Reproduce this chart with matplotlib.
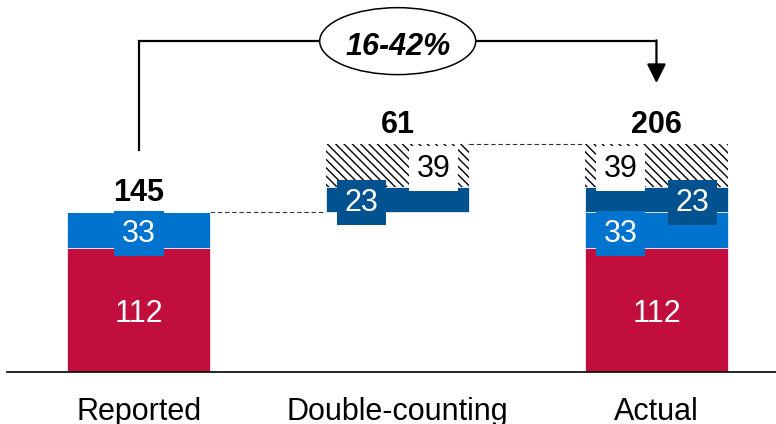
#!/usr/bin/env python3
"""
Waterfall of reported vs. actual totals, with the double-counted share
floated between the two stacked columns.
"""

import numpy as np
import matplotlib.pyplot as plt
from matplotlib.patches import Ellipse

# data
categories = ["Reported", "Double-counting", "Actual"]
core = [112, 0, 112]             # red base
reported_extra = [33, 0, 33]     # light blue
double_counted = [0, 23, 23]     # dark blue
overlap = [0, 39, 39]            # hatched
totals = [145, 61, 206]
range_text = "16-42%"

RED = "#C20E3D"
LBLUE = "#0073CF"
DBLUE = "#02528F"

plt.rcParams["font.family"] = ["Liberation Sans", "DejaVu Sans"]
plt.rcParams["hatch.linewidth"] = 1.0


def seg_label(ax, x, y, val, fc, color):
    box = dict(boxstyle="square,pad=0.25", fc=fc, ec="none") if fc else None
    ax.text(x, y, str(val), ha="center", va="center", fontsize=22,
            color=color, bbox=box, zorder=5)


def main():
    fig = plt.figure(figsize=(7.76, 4.24), dpi=100)
    ax = fig.add_axes([0, 52 / 424, 1, 372 / 424])

    x = np.arange(len(categories))
    width = 0.553
    # the double-counting column floats on top of the reported total
    bottom = np.array([0, totals[0], 0], dtype=float)

    series = [
        # values, face, hatch, label text colour, label box, label x shift
        (core, RED, None, "white", None, [0, 0, 0]),
        (reported_extra, LBLUE, None, "white", LBLUE, [0, 0, -0.139]),
        (double_counted, DBLUE, None, "white", DBLUE, [0, -0.139, 0.139]),
        (overlap, "white", "\\\\\\\\", "black", "white", [0, 0.139, -0.139]),
    ]

    for vals, fc, hatch, tc, box, shift in series:
        vals = np.array(vals, dtype=float)
        if hatch:
            ax.bar(x, vals, width, bottom=bottom, color=fc, edgecolor="black",
                   hatch=hatch, linewidth=0, zorder=2)
        else:
            ax.bar(x, vals, width, bottom=bottom, color=fc, edgecolor="white",
                   linewidth=0.5, zorder=2)
        for i, v in enumerate(vals):
            if v > 0:
                seg_label(ax, x[i] + shift[i], bottom[i] + v / 2 - 3, int(v), box, tc)
        bottom = bottom + vals

    # totals above each column
    for i, t in enumerate(totals):
        ax.annotate(str(t), (x[i], bottom[i]), xytext=(0, 8), textcoords="offset points",
                    ha="center", va="baseline", fontsize=22, fontweight="bold")

    # dashed step connectors
    dash = dict(color="#333333", lw=0.8, linestyle=(0, (4, 2.5)), zorder=1)
    ax.plot([x[0] + width / 2, x[1] - width / 2], [totals[0], totals[0]], **dash)
    ax.plot([x[1] + width / 2, x[2] - width / 2], [bottom[1], bottom[1]], **dash)

    # bracket from reported to actual
    bracket_y = 300
    ax.plot([x[0], x[0], x[2]], [201, bracket_y, bracket_y], color="black",
            lw=1.6, solid_joinstyle="miter", zorder=3)
    ax.annotate("", xy=(x[2], 262), xytext=(x[2], bracket_y + 0.7),
                arrowprops=dict(arrowstyle="-|>,head_length=0.4,head_width=0.2",
                                lw=1.6, color="black", mutation_scale=29,
                                shrinkA=0, shrinkB=0))
    ax.add_patch(Ellipse((x[1], bracket_y), 0.603, 60.7, fc="white", ec="black",
                         lw=1.1, zorder=4))
    ax.text(x[1], bracket_y - 5, range_text, ha="center", va="center", fontsize=22,
            fontweight="bold", fontstyle="italic", zorder=5)

    ax.axhline(0, xmin=7 / 776, color="black", lw=1.2, clip_on=False, zorder=3)
    ax.set_xlim(-0.537, 2.462)
    ax.set_ylim(0, 337.3)
    ax.set_xticks(x, categories, fontsize=22)
    ax.tick_params(axis="x", length=0, pad=18)
    ax.set_yticks([])
    for s in ax.spines.values():
        s.set_visible(False)

    fig.savefig("out.png", dpi=100)
    plt.close(fig)


if __name__ == "__main__":
    main()
